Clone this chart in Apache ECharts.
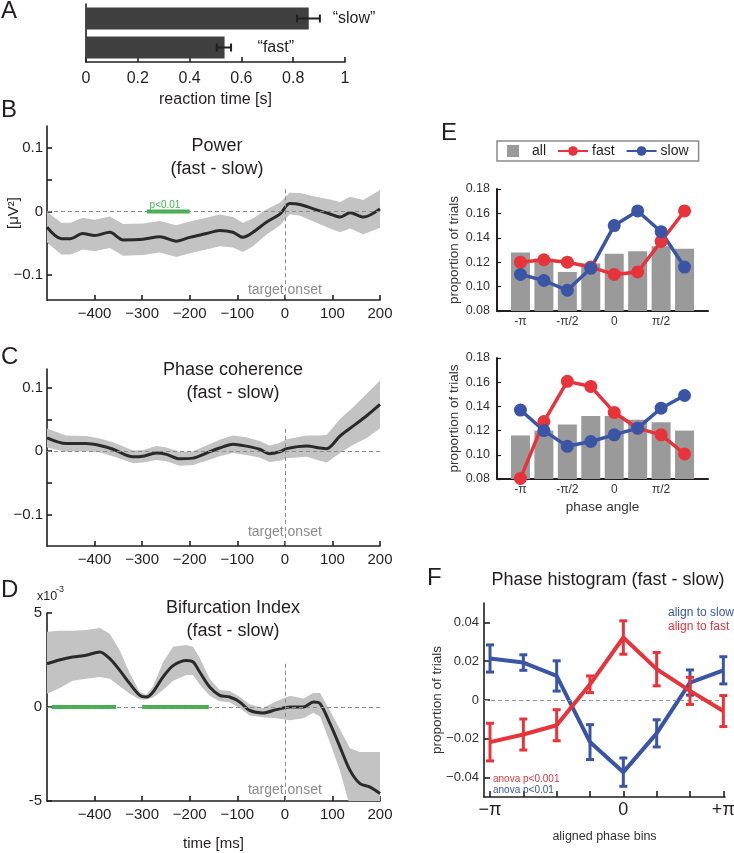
<!DOCTYPE html>
<html><head><meta charset="utf-8">
<script src="https://cdn.jsdelivr.net/npm/echarts@6/dist/echarts.min.js"></script>
<style>html,body{margin:0;padding:0;background:#fff}#c{width:734px;height:853px}</style>
</head><body><div id="c"></div>
<script>
// ================= DATA =================
// Panel A: reaction times
const rtConds = ['fast', 'slow'];
const rtLabels = ['\u201cfast\u201d', '\u201cslow\u201d'];
const rtMeans = [0.535, 0.86];
const rtLo = [0.505, 0.815];
const rtHi = [0.56, 0.903];
const rtTicks = [0, 0.2, 0.4, 0.6, 0.8, 1];

// Time axis ticks (ms)
const timeTicks = [-400, -300, -200, -100, 0, 100, 200];

// Panel B: Power (fast - slow)
const powT    = [-500,-470,-450,-425,-400,-368,-340,-298,-263,-228,-200,-165,-137,-109,-88,-67,-39,-10,10,32,60,95,116,137,165,200];
const powMean = [-0.025,-0.043,-0.043,-0.035,-0.038,-0.033,-0.045,-0.044,-0.040,-0.047,-0.041,-0.035,-0.030,-0.033,-0.041,-0.033,-0.017,-0.004,0.0125,0.011,0.004,-0.004,-0.009,-0.002,-0.009,0.004];
const powErr  = [0.024,0.025,0.025,0.025,0.025,0.025,0.025,0.025,0.025,0.025,0.025,0.025,0.025,0.024,0.023,0.022,0.020,0.018,0.017,0.018,0.020,0.023,0.024,0.025,0.027,0.030];
const powSig  = [[-290, -200]];

// Panel C: Phase coherence (fast - slow)
const cohT    = [-500,-460,-418,-389,-361,-319,-298,-270,-249,-221,-193,-165,-137,-109,-81,-53,-32,-11,4,46,74,88,116,144,172,200];
const cohMean = [0.021,0.012,0.012,0.009,0.003,-0.009,-0.008,-0.003,-0.005,-0.012,-0.011,-0.003,0.005,0.011,0.008,0.003,-0.004,-0.001,0.004,0.008,0.005,0.004,0.024,0.040,0.056,0.074];
const cohErr  = [0.015,0.013,0.012,0.011,0.011,0.010,0.010,0.011,0.011,0.011,0.011,0.012,0.013,0.014,0.014,0.013,0.013,0.014,0.015,0.017,0.020,0.022,0.027,0.030,0.035,0.038];

// Panel D: Bifurcation index (x10^-3)
const bifT    = [-500,-474,-446,-418,-389,-368,-347,-326,-305,-291,-277,-256,-235,-207,-193,-179,-158,-137,-116,-95,-74,-46,-18,11,39,60,74,95,116,137,158,179,200];
const bifMean = [2.3,2.5,2.66,2.75,2.93,2.57,1.95,1.24,0.62,0.53,0.8,1.6,2.2,2.48,2.4,1.86,1.06,0.62,0.53,0.27,-0.18,-0.32,-0.14,0,0,0.27,0.18,-0.89,-2.13,-3.37,-4.08,-4.26,-4.6];
const bifUp   = [4.0,4.05,4.05,4.1,4.2,3.9,3.0,1.8,0.8,0.65,1.1,2.4,3.2,3.3,3.2,2.6,1.5,0.9,0.85,0.55,0.15,-0.05,0.3,0.6,0.45,0.75,0.75,-0.2,-1.2,-2.2,-2.4,-2.4,-2.4];
const bifLo   = [0.7,1.0,1.4,1.5,1.6,1.5,1.1,0.7,0.4,0.4,0.5,0.9,1.4,1.7,1.7,1.2,0.6,0.3,0.25,-0.05,-0.45,-0.55,-0.6,-0.7,-0.6,-0.3,-0.5,-1.9,-3.4,-5.3,-6.0,-6.5,-7.0];
const bifSig  = [[-490, -355], [-300, -160]];

// Panel E: phase histograms (bins in units of pi/4)
const phaseBins = [-4, -3, -2, -1, 0, 1, 2, 3];
const phaseTickVals = [-4, -2, 0, 2];
const phaseTickLabels = ['-\u03c0', '-\u03c0/2', '0', '\u03c0/2'];
const allTop  = [0.128, 0.123, 0.112, 0.119, 0.127, 0.129, 0.133, 0.131];
const fastTop = [0.120, 0.122, 0.120, 0.116, 0.110, 0.112, 0.137, 0.162];
const slowTop = [0.110, 0.105, 0.097, 0.115, 0.150, 0.162, 0.145, 0.116];
const allBot  = [0.116, 0.120, 0.125, 0.132, 0.132, 0.129, 0.127, 0.120];
const fastBot = [0.0805, 0.1275, 0.1607, 0.1565, 0.135, 0.122, 0.1165, 0.1007];
const slowBot = [0.137, 0.120, 0.107, 0.111, 0.1165, 0.122, 0.1385, 0.149];
const propTicks = [0.08, 0.10, 0.12, 0.14, 0.16, 0.18];

// Panel F: aligned phase histogram (fast - slow)
const alignBins = [0, 1, 2, 3, 4, 5, 6, 7];
const alignTickVals = [0, 4, 7];
const alignTickLabels = ['\u2212\u03c0', '0', '+\u03c0'];
const slowAlign    = [0.0214, 0.0193, 0.0124, -0.0217, -0.0372, -0.0172, 0.009, 0.0153];
const slowAlignErr = [0.007, 0.004, 0.0078, 0.009, 0.0073, 0.007, 0.0065, 0.007];
const fastAlign    = [-0.0217, -0.0178, -0.013, 0.0081, 0.0322, 0.0159, 0.0047, -0.0057];
const fastAlignErr = [0.0097, 0.008, 0.008, 0.0043, 0.0086, 0.0086, 0.007, 0.008];
const diffTicks = [-0.04, -0.02, 0, 0.02, 0.04];

// ================= STYLE / HELPERS =================
const INK = '#231f20';
const FONT = '"Liberation Sans", Arial, Helvetica, sans-serif';
const BAND = '#c3c3c3';
const MEANC = '#2a2a2a';
const GREEN = '#3db54a';
const RED = '#e8333a';
const BLUE = '#3b55a6';
const GREY = '#8c8c8c';

function merge(a, b) {
  const out = Array.isArray(a) ? a.slice() : Object.assign({}, a);
  for (const k in b) {
    if (b[k] && typeof b[k] === 'object' && !Array.isArray(b[k]) && a[k] && typeof a[k] === 'object' && !Array.isArray(a[k])) out[k] = merge(a[k], b[k]);
    else out[k] = b[k];
  }
  return out;
}
function axis(extra) {
  return merge({
    type: 'value', splitLine: { show: false },
    axisLine: { show: true, onZero: false, lineStyle: { color: INK, width: 1.6 } },
    axisTick: { show: true, inside: true, length: 5, lineStyle: { color: INK, width: 1.6 } },
    axisLabel: { color: INK, fontFamily: FONT, fontSize: 15, margin: 6 },
    nameTextStyle: { color: INK, fontFamily: FONT, fontSize: 15 },
    nameMoveOverlap: false
  }, extra);
}
const umin = v => (v < 0 ? '\u2212' : '') + Math.abs(v);
const grid = (l, t, w, h) => ({ left: l, top: t, width: w, height: h, containLabel: false, outerBoundsMode: 'none' });

function bandSeries(gi, ts, lo, hi) {
  return {
    type: 'custom', xAxisIndex: gi, yAxisIndex: gi, clip: true, silent: true, z: 1,
    data: ts.map((t, i) => [t, lo[i], hi[i]]),
    encode: { x: 0, y: [1, 2] },
    renderItem: function (params, api) {
      if (params.dataIndex !== 0) return null;
      const pts = [];
      for (let i = 0; i < ts.length; i++) pts.push(api.coord([ts[i], hi[i]]));
      for (let i = ts.length - 1; i >= 0; i--) pts.push(api.coord([ts[i], lo[i]]));
      return { type: 'polygon', shape: { points: pts }, style: { fill: BAND } };
    }
  };
}
function meanSeries(gi, ts, mean, onsetTop, axisMin, onsetLabelY) {
  return {
    type: 'line', xAxisIndex: gi, yAxisIndex: gi, z: 3, silent: true,
    data: ts.map((t, i) => [t, mean[i]]),
    symbol: 'none', smooth: 0.3,
    lineStyle: { color: MEANC, width: 3 },
    markLine: {
      silent: true, symbol: 'none', label: { show: false },
      lineStyle: { type: [4, 3], color: GREY, width: 1 },
      data: [{ yAxis: 0 }, [{ coord: [0, onsetTop] }, { coord: [0, axisMin] }]]
    },
    markPoint: {
      silent: true, symbol: 'circle', symbolSize: 1, itemStyle: { color: 'rgba(0,0,0,0)' },
      label: { show: true, position: 'inside', formatter: 'target onset', color: GREY, fontFamily: FONT, fontSize: 14 },
      data: [{ coord: [0, onsetLabelY] }]
    }
  };
}
function sigSeries(gi, intervals) {
  return intervals.map(iv => ({
    type: 'line', xAxisIndex: gi, yAxisIndex: gi, z: 4, silent: true, symbol: 'none',
    data: [[iv[0], 0], [iv[1], 0]],
    lineStyle: { color: GREEN, width: 4 }
  }));
}
function timeXAxis(gi, extra) {
  return axis(merge({ gridIndex: gi, min: -500, max: 200,
    axisLabel: { customValues: timeTicks, formatter: umin },
    axisTick: { customValues: timeTicks } }, extra || {}));
}
function errSeries(gi, xs, ys, es, color, capHalf, lw, horizontal) {
  return {
    type: 'custom', xAxisIndex: gi, yAxisIndex: gi, silent: true, z: 5,
    data: xs.map((x, i) => horizontal ? [ys[i] - es[i], ys[i] + es[i], x] : [x, ys[i] - es[i], ys[i] + es[i]]),
    encode: horizontal ? { x: [0, 1], y: 2 } : { x: 0, y: [1, 2] },
    renderItem: function (params, api) {
      let p1, p2, c1, c2;
      if (horizontal) {
        p1 = api.coord([api.value(0), api.value(2)]); p2 = api.coord([api.value(1), api.value(2)]);
        c1 = { x1: p1[0], y1: p1[1] - capHalf, x2: p1[0], y2: p1[1] + capHalf };
        c2 = { x1: p2[0], y1: p2[1] - capHalf, x2: p2[0], y2: p2[1] + capHalf };
      } else {
        p1 = api.coord([api.value(0), api.value(2)]); p2 = api.coord([api.value(0), api.value(1)]);
        c1 = { x1: p1[0] - capHalf, y1: p1[1], x2: p1[0] + capHalf, y2: p1[1] };
        c2 = { x1: p2[0] - capHalf, y1: p2[1], x2: p2[0] + capHalf, y2: p2[1] };
      }
      const st = () => ({ stroke: color, lineWidth: lw });
      return { type: 'group', children: [
        { type: 'line', shape: { x1: p1[0], y1: p1[1], x2: p2[0], y2: p2[1] }, style: st() },
        { type: 'line', shape: c1, style: st() },
        { type: 'line', shape: c2, style: st() }
      ] };
    }
  };
}
function txt(x, y, text, size, color, align, vAlign, extra) {
  return merge({ type: 'text', x: x, y: y, silent: true, z: 100,
    style: { text: text, fill: color || INK, fontSize: size, fontFamily: FONT,
      align: align || 'left', verticalAlign: vAlign || 'middle', textAlign: align || 'left', textVerticalAlign: vAlign || 'middle' } }, extra || {});
}
function phaseLine(gi, name, vals, color) {
  return { type: 'line', name: name, xAxisIndex: gi, yAxisIndex: gi, z: 4,
    data: phaseBins.map((b, i) => [b, vals[i]]),
    symbol: 'circle', symbolSize: 13, showSymbol: true,
    lineStyle: { color: color, width: 3.5 }, itemStyle: { color: color } };
}
function phaseXAxis(gi, extra) {
  return axis(merge({ gridIndex: gi, min: -5, max: 4,
    axisTick: { customValues: phaseBins, length: 4, lineStyle: { width: 1.2 } },
    axisLine: { lineStyle: { width: 2 } },
    axisLabel: { customValues: phaseTickVals, fontSize: 12, margin: 5, color: '#333',
      formatter: v => phaseTickLabels[phaseTickVals.indexOf(v)] } }, extra || {}));
}
function propYAxis(gi) {
  return axis({ gridIndex: gi, min: 0.08, max: 0.18, interval: 0.02,
    axisTick: { length: 4, lineStyle: { width: 1.2 } },
    axisLine: { lineStyle: { width: 2 } },
    axisLabel: { fontSize: 12.5, margin: 7, color: '#333', formatter: v => v.toFixed(2) },
    name: 'proportion of trials', nameLocation: 'middle', nameGap: 36,
    nameTextStyle: { fontSize: 13.5, color: '#333' } });
}

// ================= OPTION =================
const option = {
  backgroundColor: '#ffffff',
  animation: false,
  textStyle: { fontFamily: FONT },
  grid: [
    grid(86, 4, 259, 58),      // A
    grid(47, 126, 333, 174),   // B
    grid(47, 369, 333, 177),   // C
    grid(47, 613, 333, 188),   // D
    grid(497, 189, 211, 122),  // E top
    grid(497, 358, 211, 121),  // E bottom
    grid(484, 603, 241, 194)   // F
  ],
  legend: {
    left: 497, top: 141, padding: [3, 10, 3, 10], itemGap: 11, itemWidth: 30, itemHeight: 12,
    borderColor: '#8a8a8a', borderWidth: 1.5, selectedMode: false,
    textStyle: { fontFamily: FONT, fontSize: 14, color: INK, padding: [0, 0, 0, -1] },
    data: [{ name: 'all', icon: 'path://M0 0H10V10H0Z' }, { name: 'fast' }, { name: 'slow' }]
  },
  xAxis: [
    axis({ gridIndex: 0, min: 0, max: 1, interval: 0.2,
      axisLabel: { fontSize: 16, margin: 9 },
      name: 'reaction time [s]', nameLocation: 'middle', nameGap: 30, nameTextStyle: { fontSize: 16 } }),
    timeXAxis(1),
    timeXAxis(2),
    timeXAxis(3, { name: 'time [ms]', nameLocation: 'middle', nameGap: 35, nameTextStyle: { fontSize: 15 } }),
    phaseXAxis(4),
    phaseXAxis(5, { name: 'phase angle', nameLocation: 'middle', nameGap: 21, nameTextStyle: { fontSize: 13.5, color: '#333' } }),
    axis({ gridIndex: 6, min: -0.18, max: 7.05,
      axisTick: { customValues: alignBins, length: 6 },
      axisLabel: { customValues: alignTickVals, fontSize: 18, margin: 4,
        formatter: v => alignTickLabels[alignTickVals.indexOf(v)] },
      name: 'aligned phase bins', nameLocation: 'middle', nameGap: 33, nameTextStyle: { fontSize: 12.5, color: '#333' } })
  ],
  yAxis: [
    axis({ gridIndex: 0, type: 'category', data: rtConds, axisTick: { show: false }, axisLabel: { show: false } }),
    axis({ gridIndex: 1, min: -0.14, max: 0.135,
      axisLabel: { customValues: [-0.1, 0, 0.1], formatter: umin, margin: 4 },
      axisTick: { customValues: [-0.1, -0.05, 0, 0.05, 0.1] },
      name: '[\u03bcV\u00b2]', nameLocation: 'middle', nameGap: 26 }),
    axis({ gridIndex: 2, min: -0.15, max: 0.13,
      axisLabel: { customValues: [-0.1, 0, 0.1], formatter: umin, margin: 4 },
      axisTick: { customValues: [-0.1, -0.05, 0, 0.05, 0.1] } }),
    axis({ gridIndex: 3, min: -5, max: 5, interval: 5,
      axisLabel: { formatter: v => String(v), margin: 5 } }),
    propYAxis(4),
    propYAxis(5),
    axis({ gridIndex: 6, min: -0.05, max: 0.05,
      axisTick: { customValues: diffTicks, length: 6 },
      axisLabel: { customValues: diffTicks, fontSize: 13, margin: 5, color: '#333',
        formatter: v => v === 0 ? '0' : (v < 0 ? '\u2212' : '') + Math.abs(v).toFixed(2) },
      name: 'proportion of trials', nameLocation: 'middle', nameGap: 40,
      nameTextStyle: { fontSize: 13.5, color: '#333' } })
  ],
  series: [
    // ---- A ----
    { type: 'bar', xAxisIndex: 0, yAxisIndex: 0, barWidth: 22, silent: true,
      itemStyle: { color: '#404040' },
      data: rtMeans.map((m, i) => ({ value: m,
        label: { show: true, position: 'right', distance: i === 0 ? 33 : 24, formatter: rtLabels[i],
          color: INK, fontFamily: FONT, fontSize: 16 } })) },
    errSeries(0, rtConds.map((c, i) => i), rtMeans, rtMeans.map((m, i) => 0), INK, 4, 2, true),
    // ---- B ----
    bandSeries(1, powT, powMean.map((m, i) => m - powErr[i]), powMean.map((m, i) => m + powErr[i])),
    meanSeries(1, powT, powMean, 0.035, -0.14, -0.124),
    ...sigSeries(1, powSig),
    // ---- C ----
    bandSeries(2, cohT, cohMean.map((m, i) => m - cohErr[i]), cohMean.map((m, i) => m + cohErr[i])),
    meanSeries(2, cohT, cohMean, 0.035, -0.15, -0.128),
    // ---- D ----
    bandSeries(3, bifT, bifLo, bifUp),
    meanSeries(3, bifT, bifMean, 2.3, -5, -4.43),
    ...sigSeries(3, bifSig),
    // ---- E top ----
    { type: 'bar', name: 'all', xAxisIndex: 4, yAxisIndex: 4, barWidth: 19, z: 2,
      itemStyle: { color: '#9a9a9a' }, data: phaseBins.map((b, i) => [b, allTop[i]]) },
    phaseLine(4, 'fast', fastTop, RED),
    phaseLine(4, 'slow', slowTop, BLUE),
    // ---- E bottom ----
    { type: 'bar', name: 'all', xAxisIndex: 5, yAxisIndex: 5, barWidth: 19, z: 2,
      itemStyle: { color: '#9a9a9a' }, data: phaseBins.map((b, i) => [b, allBot[i]]) },
    phaseLine(5, 'fast', fastBot, RED),
    phaseLine(5, 'slow', slowBot, BLUE),
    // ---- F ----
    { type: 'line', xAxisIndex: 6, yAxisIndex: 6, z: 3, silent: true, symbol: 'none',
      data: alignBins.map((b, i) => [b, slowAlign[i]]), lineStyle: { color: BLUE, width: 4 },
      markLine: { silent: true, symbol: 'none', label: { show: false },
        lineStyle: { type: [4, 3], color: '#999', width: 1 }, data: [{ yAxis: 0 }] } },
    errSeries(6, alignBins, slowAlign, slowAlignErr, BLUE, 4, 3, false),
    { type: 'line', xAxisIndex: 6, yAxisIndex: 6, z: 6, silent: true, symbol: 'none',
      data: alignBins.map((b, i) => [b, fastAlign[i]]), lineStyle: { color: RED, width: 4 } },
    Object.assign(errSeries(6, alignBins, fastAlign, fastAlignErr, RED, 4, 3, false), { z: 7 })
  ],
  graphic: [
    txt(1, 11, 'A', 24),
    txt(1, 110, 'B', 24),
    txt(1, 357, 'C', 24),
    txt(1, 590, 'D', 24),
    txt(441, 133, 'E', 24),
    txt(427, 578, 'F', 24),
    txt(217, 135, 'Power\n(fast - slow)', 18, INK, 'center', 'top', { style: { lineHeight: 23 } }),
    txt(233, 359, 'Phase coherence\n(fast - slow)', 18, INK, 'center', 'top', { style: { lineHeight: 23 } }),
    txt(233, 597, 'Bifurcation Index\n(fast - slow)', 18, INK, 'center', 'top', { style: { lineHeight: 23 } }),
    txt(608, 580, 'Phase histogram (fast - slow)', 18, INK, 'center', 'middle'),
    txt(37, 597, 'x10', 12.5),
    txt(56, 590, '-3', 9),
    txt(668, 613, 'align to slow', 12, BLUE),
    txt(668, 627, 'align to fast', 12, RED),
    txt(493, 779, 'anova p<0.001', 10, RED),
    txt(493, 790, 'anova p<0.01', 10, BLUE),
    txt(165, 205, 'p<0.01', 10, GREEN, 'center', 'middle')
  ]
};
// A error bar uses lo/hi directly
option.series[1] = errSeries(0, rtConds.map((c, i) => i), rtMeans.map((m, i) => (rtLo[i] + rtHi[i]) / 2),
  rtMeans.map((m, i) => (rtHi[i] - rtLo[i]) / 2), INK, 4, 2, true);

const chart = echarts.init(document.getElementById('c'), null, { renderer: 'canvas' });
chart.setOption(option);
</script>
</body></html>
